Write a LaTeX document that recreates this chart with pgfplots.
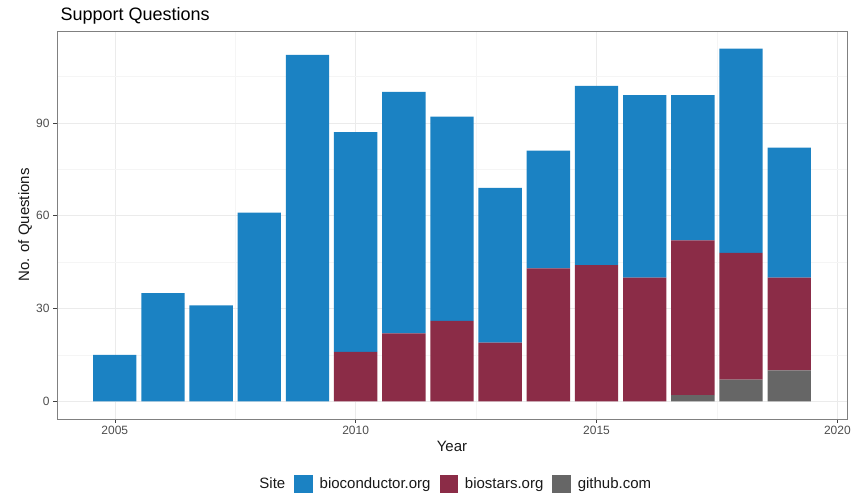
\documentclass[border=0pt]{standalone}
\usepackage{fontspec}
\setmainfont{Liberation Sans}
\usepackage{pgfplots}
\pgfplotsset{compat=1.18}
\definecolor{bioc}{RGB}{27,130,195}
\definecolor{biost}{RGB}{139,44,71}
\definecolor{gith}{RGB}{102,102,102}
\definecolor{tickc}{RGB}{77,77,77}
\begin{document}
\begin{tikzpicture}[x=1pt,y=1pt]
\useasboundingbox (0,0) rectangle (862,495);
\begin{axis}[
  at={(57pt,76pt)}, anchor=south west,
  scale only axis, width=790pt, height=388pt,
  xmin=2003.8, xmax=2020.2, ymin=-5.7, ymax=119.7,
  ybar stacked, bar width=0.9,
  xtick={2005,2010,2015,2020}, minor xtick={2007.5,2012.5,2017.5},
  ytick={0,30,60,90}, minor ytick={15,45,75,105},
  grid=both,
  major grid style={color=black!8, line width=0.6pt},
  minor grid style={color=black!4, line width=0.4pt},
  axis line style={color=black!50, line width=0.7pt},
  tick style={color=black!75, line width=0.6pt},
  tick align=outside, major tick length=4pt, minor tick length=0pt,
  xtick pos=lower, ytick pos=left,
  /pgf/number format/assume math mode=true,
  x tick label style={/pgf/number format/set thousands separator={}},
  ticklabel style={font=\fontsize{12}{14}\selectfont, text=tickc},
  xlabel={Year}, ylabel={No. of Questions},
  label style={font=\fontsize{15}{18}\selectfont, text=black!90},
  x label style={at={(axis description cs:0.5,-0.0696)}, anchor=center},
  y label style={at={(axis description cs:-0.0405,0.5)}, anchor=center},
  legend columns=-1,
  legend style={draw=none, fill=none,
    at={(axis description cs:0.4994,-0.1675)}, anchor=center,
    font=\fontsize{15}{18}\selectfont, text=black!90,
    nodes={inner xsep=0pt},
    /tikz/every odd column/.append style={column sep=7.5pt},
    /tikz/every even column/.append style={column sep=9pt}},
  legend cell align=left,
]
\addlegendimage{empty legend}
\addlegendentry{Site}
\addlegendimage{legend image code/.code={\fill[bioc] (0pt,-8.5pt) rectangle (17.5pt,8.5pt);}}
\addlegendentry{bioconductor.org}
\addlegendimage{legend image code/.code={\fill[biost] (0pt,-8.5pt) rectangle (17.5pt,8.5pt);}}
\addlegendentry{biostars.org}
\addlegendimage{legend image code/.code={\fill[gith] (0pt,-8.5pt) rectangle (17.5pt,8.5pt);}}
\addlegendentry{github.com}
% github (bottom)
\addplot[fill=gith, draw=none] coordinates {
 (2005,0) (2006,0) (2007,0) (2008,0) (2009,0) (2010,0) (2011,0) (2012,0)
 (2013,0) (2014,0) (2015,0) (2016,0) (2017,2) (2018,7) (2019,10)};
% biostars
\addplot[fill=biost, draw=none] coordinates {
 (2005,0) (2006,0) (2007,0) (2008,0) (2009,0) (2010,16) (2011,22) (2012,26)
 (2013,19) (2014,43) (2015,44) (2016,40) (2017,50) (2018,41) (2019,30)};
% bioconductor
\addplot[fill=bioc, draw=none] coordinates {
 (2005,15) (2006,35) (2007,31) (2008,61) (2009,112) (2010,71) (2011,78) (2012,66)
 (2013,50) (2014,38) (2015,58) (2016,59) (2017,47) (2018,66) (2019,42)};
\end{axis}
\node[anchor=base west, font=\fontsize{18}{21}\selectfont, text=black] at (57,474) {Support Questions};
\end{tikzpicture}
\end{document}
